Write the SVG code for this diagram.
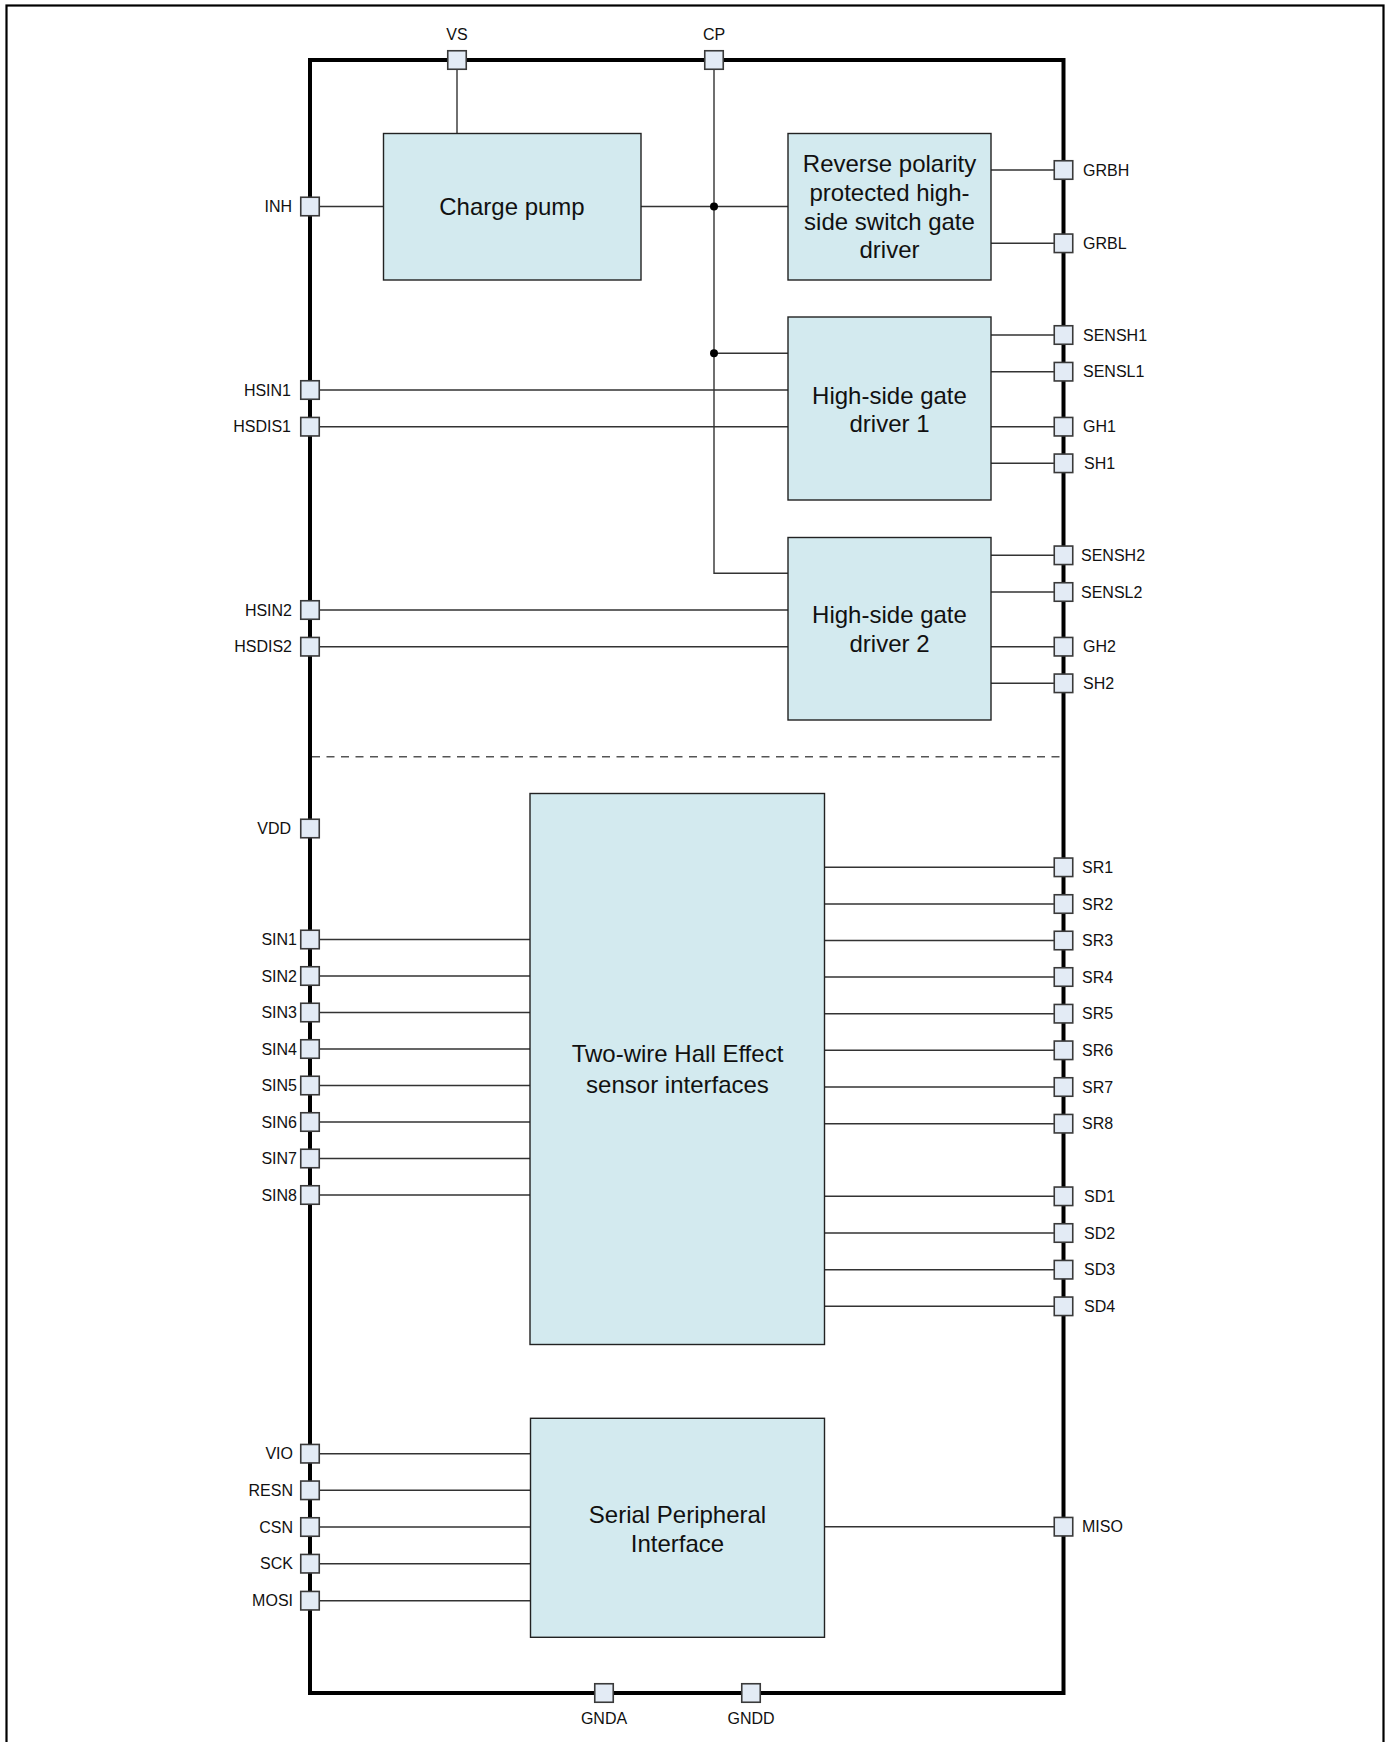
<svg xmlns="http://www.w3.org/2000/svg" width="1389" height="1742" viewBox="0 0 1389 1742">
<style>
.frame{fill:none;stroke:#000;stroke-width:2.2}
.chip{fill:none;stroke:#000;stroke-width:4}
.blk{fill:#d3eaef;stroke:#222;stroke-width:1.4}
.pin{fill:#e3ebf5;stroke:#3a3a3a;stroke-width:1.6}
.w{stroke:#333;stroke-width:1.4;fill:none}
.dash{stroke:#555;stroke-width:1.6;stroke-dasharray:8 6.5;fill:none}
.lbl{font-family:"Liberation Sans",Arial,sans-serif;font-size:16px;fill:#111}
.l{text-anchor:end}
.c{text-anchor:middle}
.bt{font-family:"Liberation Sans",Arial,sans-serif;font-size:24px;fill:#111;text-anchor:middle}
</style>
<defs>
<rect id="p" class="pin" x="-9.25" y="-9.25" width="18.5" height="18.5"/>
</defs>
<rect class="frame" x="6.5" y="5.5" width="1377" height="1745"/>
<rect class="chip" x="310" y="60" width="753.5" height="1633"/>
<line class="dash" x1="312" y1="756.7" x2="1062" y2="756.7"/>

<g id="connectors">
<path class="w" d="M457 69V133.5"/>
<path class="w" d="M319 206.5H383.5"/>
<path class="w" d="M641 206.5H788"/>
<path class="w" d="M714 69V573.3H788"/>
<path class="w" d="M714 353.3H788"/>
<circle cx="714" cy="206.6" r="4" fill="#000"/>
<circle cx="714" cy="353.3" r="4" fill="#000"/>
<path class="w" d="M991 170H1054M991 243.3H1054"/>
<path class="w" d="M319 390H788M319 426.7H788M319 610H788M319 646.7H788"/>
<path class="w" d="M991 335H1054M991 371.7H1054M991 426.7H1054M991 463.3H1054"/>
<path class="w" d="M991 555.3H1054M991 592H1054M991 646.7H1054M991 683.3H1054"/>
<path class="w" d="M319 939.5H530M319 976H530M319 1012.5H530M319 1049H530M319 1085.5H530M319 1122H530M319 1158.5H530M319 1195H530"/>
<path class="w" d="M824.5 867.3H1054M824.5 904H1054M824.5 940.5H1054M824.5 977H1054M824.5 1013.7H1054M824.5 1050.3H1054M824.5 1087H1054M824.5 1123.7H1054"/>
<path class="w" d="M824.5 1196.3H1054M824.5 1233H1054M824.5 1269.7H1054M824.5 1306.3H1054"/>
<path class="w" d="M319 1453.7H530.5M319 1490.3H530.5M319 1527H530.5M319 1563.7H530.5M319 1600.7H530.5"/>
<path class="w" d="M824.5 1526.7H1054"/>
</g>

<g id="charge-pump">
<rect class="blk" x="383.5" y="133.5" width="257.5" height="146.5"/>
<text class="bt" x="512" y="215">Charge pump</text>
</g>
<g id="reverse-polarity">
<rect class="blk" x="788" y="133.5" width="203" height="146.5"/>
<text class="bt" x="889.5" y="172">Reverse polarity</text>
<text class="bt" x="889.5" y="201">protected high-</text>
<text class="bt" x="889.5" y="229.5">side switch gate</text>
<text class="bt" x="889.5" y="258">driver</text>
</g>
<g id="hs-driver-1">
<rect class="blk" x="788" y="317" width="203" height="183"/>
<text class="bt" x="889.5" y="403.5">High-side gate</text>
<text class="bt" x="889.5" y="431.5">driver 1</text>
</g>
<g id="hs-driver-2">
<rect class="blk" x="788" y="537.5" width="203" height="182.5"/>
<text class="bt" x="889.5" y="623">High-side gate</text>
<text class="bt" x="889.5" y="651.5">driver 2</text>
</g>
<g id="hall-sensor">
<rect class="blk" x="530" y="793.5" width="294.5" height="551"/>
<text class="bt" x="677.5" y="1062">Two-wire Hall Effect</text>
<text class="bt" x="677.5" y="1092.5">sensor interfaces</text>
</g>
<g id="spi">
<rect class="blk" x="530.5" y="1418.3" width="294" height="219"/>
<text class="bt" x="677.5" y="1523">Serial Peripheral</text>
<text class="bt" x="677.5" y="1551.5">Interface</text>
</g>

<g id="pins-top">
<use href="#p" x="457" y="60"/><text class="lbl c" x="457" y="40">VS</text>
<use href="#p" x="714" y="60"/><text class="lbl c" x="714" y="40">CP</text>
</g>
<g id="pins-bottom">
<use href="#p" x="604" y="1693"/><text class="lbl c" x="604" y="1724">GNDA</text>
<use href="#p" x="751" y="1693"/><text class="lbl c" x="751" y="1724">GNDD</text>
</g>
<g id="pins-left">
<use href="#p" x="310" y="206.5"/><text class="lbl l" x="292" y="212">INH</text>
<use href="#p" x="310" y="390"/><text class="lbl l" x="291" y="395.7">HSIN1</text>
<use href="#p" x="310" y="426.7"/><text class="lbl l" x="291" y="432.4">HSDIS1</text>
<use href="#p" x="310" y="610"/><text class="lbl l" x="292" y="615.7">HSIN2</text>
<use href="#p" x="310" y="646.7"/><text class="lbl l" x="292" y="652.4">HSDIS2</text>
<use href="#p" x="310" y="828.5"/><text class="lbl l" x="291" y="834.2">VDD</text>
<use href="#p" x="310" y="939.5"/><text class="lbl l" x="297" y="945.2">SIN1</text>
<use href="#p" x="310" y="976"/><text class="lbl l" x="297" y="981.7">SIN2</text>
<use href="#p" x="310" y="1012.5"/><text class="lbl l" x="297" y="1018.2">SIN3</text>
<use href="#p" x="310" y="1049"/><text class="lbl l" x="297" y="1054.7">SIN4</text>
<use href="#p" x="310" y="1085.5"/><text class="lbl l" x="297" y="1091.2">SIN5</text>
<use href="#p" x="310" y="1122"/><text class="lbl l" x="297" y="1127.7">SIN6</text>
<use href="#p" x="310" y="1158.5"/><text class="lbl l" x="297" y="1164.2">SIN7</text>
<use href="#p" x="310" y="1195"/><text class="lbl l" x="297" y="1200.7">SIN8</text>
<use href="#p" x="310" y="1453.7"/><text class="lbl l" x="293" y="1459.4">VIO</text>
<use href="#p" x="310" y="1490.3"/><text class="lbl l" x="293" y="1496">RESN</text>
<use href="#p" x="310" y="1527"/><text class="lbl l" x="293" y="1532.7">CSN</text>
<use href="#p" x="310" y="1563.7"/><text class="lbl l" x="293" y="1569.4">SCK</text>
<use href="#p" x="310" y="1600.7"/><text class="lbl l" x="293" y="1606.4">MOSI</text>
</g>
<g id="pins-right">
<use href="#p" x="1063.5" y="170"/><text class="lbl" x="1083" y="175.7">GRBH</text>
<use href="#p" x="1063.5" y="243.3"/><text class="lbl" x="1083" y="249">GRBL</text>
<use href="#p" x="1063.5" y="335"/><text class="lbl" x="1083" y="340.7">SENSH1</text>
<use href="#p" x="1063.5" y="371.7"/><text class="lbl" x="1083" y="377.4">SENSL1</text>
<use href="#p" x="1063.5" y="426.7"/><text class="lbl" x="1083" y="432.4">GH1</text>
<use href="#p" x="1063.5" y="463.3"/><text class="lbl" x="1084" y="469">SH1</text>
<use href="#p" x="1063.5" y="555.3"/><text class="lbl" x="1081" y="561">SENSH2</text>
<use href="#p" x="1063.5" y="592"/><text class="lbl" x="1081" y="597.7">SENSL2</text>
<use href="#p" x="1063.5" y="646.7"/><text class="lbl" x="1083" y="652.4">GH2</text>
<use href="#p" x="1063.5" y="683.3"/><text class="lbl" x="1083" y="689">SH2</text>
<use href="#p" x="1063.5" y="867.3"/><text class="lbl" x="1082" y="873">SR1</text>
<use href="#p" x="1063.5" y="904"/><text class="lbl" x="1082" y="909.7">SR2</text>
<use href="#p" x="1063.5" y="940.5"/><text class="lbl" x="1082" y="946.2">SR3</text>
<use href="#p" x="1063.5" y="977"/><text class="lbl" x="1082" y="982.7">SR4</text>
<use href="#p" x="1063.5" y="1013.7"/><text class="lbl" x="1082" y="1019.4">SR5</text>
<use href="#p" x="1063.5" y="1050.3"/><text class="lbl" x="1082" y="1056">SR6</text>
<use href="#p" x="1063.5" y="1087"/><text class="lbl" x="1082" y="1092.7">SR7</text>
<use href="#p" x="1063.5" y="1123.7"/><text class="lbl" x="1082" y="1129.4">SR8</text>
<use href="#p" x="1063.5" y="1196.3"/><text class="lbl" x="1084" y="1202">SD1</text>
<use href="#p" x="1063.5" y="1233"/><text class="lbl" x="1084" y="1238.7">SD2</text>
<use href="#p" x="1063.5" y="1269.7"/><text class="lbl" x="1084" y="1275.4">SD3</text>
<use href="#p" x="1063.5" y="1306.3"/><text class="lbl" x="1084" y="1312">SD4</text>
<use href="#p" x="1063.5" y="1526.7"/><text class="lbl" x="1082" y="1532.4">MISO</text>
</g>
</svg>
